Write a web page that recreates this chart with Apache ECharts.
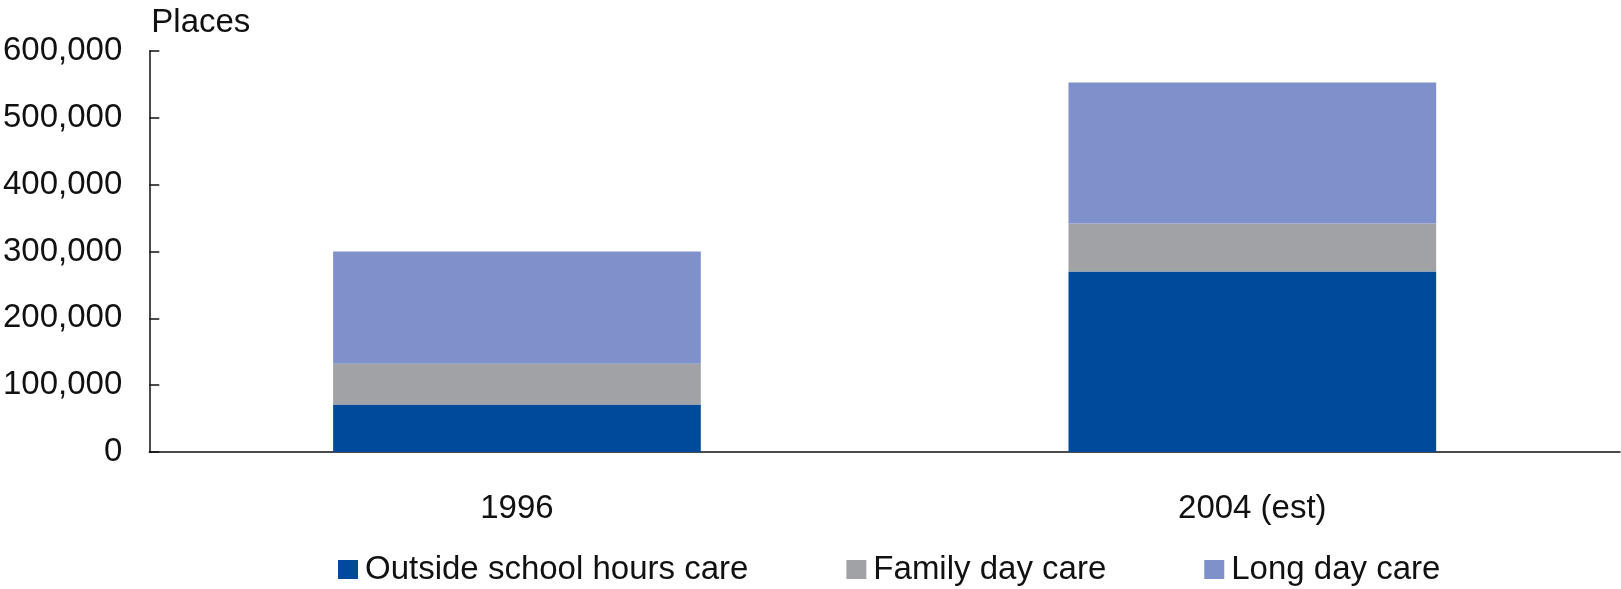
<!DOCTYPE html>
<html>
<head>
<meta charset="utf-8">
<title>Child care places</title>
<script src="https://cdn.jsdelivr.net/npm/echarts@6/dist/echarts.min.js"></script>
<style>
  html, body { margin: 0; padding: 0; background: #fff; }
  #chart { width: 1621px; height: 589px; }
</style>
</head>
<body>
<div id="chart"></div>
<script>
// data
var years = ['1996', '2004 (est)'];
var outsideSchool = [71000, 270000];
var familyDay = [61000, 72000];
var longDay = [168000, 211000];
var yTicks = [0, 100000, 200000, 300000, 400000, 500000, 600000];

var font = 'Liberation Sans, Arial, sans-serif';
var ink = '#111';

var chart = echarts.init(document.getElementById('chart'));

var option = {
  animation: false,
  textStyle: { fontFamily: font },
  grid: { left: 146, right: 1, top: 51, bottom: 137 },
  legend: {
    left: 333,
    top: 548,
    itemWidth: 20,
    itemHeight: 19,
    itemGap: 98,
    icon: 'rect',
    textStyle: { fontSize: 33, color: ink, fontFamily: font, padding: [0, 0, 0, 2] },
    data: ['Outside school hours care', 'Family day care', 'Long day care']
  },
  xAxis: {
    type: 'category',
    data: years,
    axisLine: { lineStyle: { color: ink, width: 1.5 } },
    axisTick: { inside: true, length: 10, lineStyle: { color: ink, width: 1.5 } },
    axisLabel: { fontSize: 33, color: ink, margin: 40 }
  },
  yAxis: {
    type: 'value',
    name: 'Places',
    nameLocation: 'end',
    nameGap: 12,
    nameTextStyle: { fontSize: 33, color: ink, align: 'left', padding: [0, 0, 0, 2] },
    min: yTicks[0],
    max: yTicks[yTicks.length - 1],
    interval: 100000,
    splitLine: { show: false },
    axisLine: { show: true, lineStyle: { color: ink, width: 1.5 } },
    axisTick: { show: true, inside: true, length: 10, lineStyle: { color: ink, width: 1.5 } },
    axisLabel: {
      fontSize: 33,
      color: ink,
      margin: 27,
      formatter: function (v) { return v.toLocaleString('en-US'); }
    }
  },
  series: [
    {
      name: 'Outside school hours care',
      type: 'bar',
      stack: 'places',
      barWidth: '50%',
      itemStyle: { color: '#004a9c' },
      data: outsideSchool
    },
    {
      name: 'Family day care',
      type: 'bar',
      stack: 'places',
      itemStyle: { color: '#a0a2a5' },
      data: familyDay
    },
    {
      name: 'Long day care',
      type: 'bar',
      stack: 'places',
      itemStyle: { color: '#7e91cb' },
      data: longDay
    }
  ]
};

chart.setOption(option);
</script>
</body>
</html>
